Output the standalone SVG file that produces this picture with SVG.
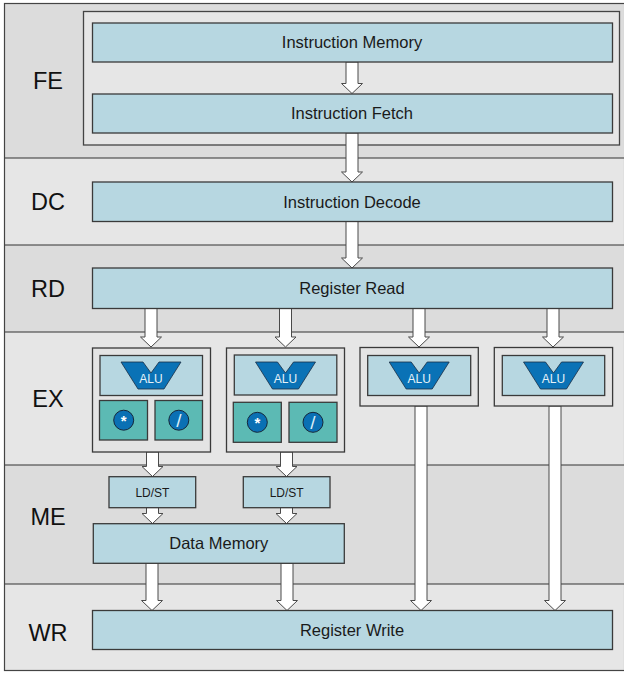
<svg xmlns="http://www.w3.org/2000/svg" width="624" height="673" viewBox="0 0 624 673">
<style>
.bd{fill:#dcdcdc}
.bl{fill:#e6e6e6}
.sep{stroke:#333;stroke-width:1.2}
.lbl{font-family:"Liberation Sans",Arial,sans-serif;font-size:23.5px;fill:#111;text-anchor:middle}
.box{fill:#b7d7e1;stroke:#3a3a3a;stroke-width:1.3}
.grp{fill:#e4e4e4;stroke:#3a3a3a;stroke-width:1.3}
.fu{fill:#5cbab4;stroke:#3a3a3a;stroke-width:1.3}
.t{font-family:"Liberation Sans",Arial,sans-serif;font-size:16.5px;fill:#1a1a1a;text-anchor:middle}
.ts{font-family:"Liberation Sans",Arial,sans-serif;font-size:12px;fill:#1a1a1a;text-anchor:middle}
.alu{fill:#0a72b6;stroke:#1b2f45;stroke-width:0.8}
.at{font-family:"Liberation Sans",Arial,sans-serif;font-size:12px;fill:#e6f2f8;text-anchor:middle}
.c{fill:#0a70b4;stroke:#15263a;stroke-width:1}
.ct{font-family:"Liberation Sans",Arial,sans-serif;font-weight:bold;font-size:15px;fill:#fff;text-anchor:middle}
.cd{font-family:"Liberation Sans",Arial,sans-serif;font-weight:normal;font-size:19px;fill:#dceef8;text-anchor:middle}
.ar{fill:#fff;stroke:#4a4a4a;stroke-width:1}
</style>
<g id="bands">
<rect class="bd" x="4.5" y="3.5" width="619" height="154.5"/>
<rect class="bl" x="4.5" y="158" width="619" height="87"/>
<rect class="bd" x="4.5" y="245" width="619" height="87"/>
<rect class="bl" x="4.5" y="332" width="619" height="133"/>
<rect class="bd" x="4.5" y="465" width="619" height="119"/>
<rect class="bl" x="4.5" y="584" width="619" height="86.5"/>
<line class="sep" x1="4.5" y1="158" x2="624" y2="158"/>
<line class="sep" x1="4.5" y1="245" x2="624" y2="245"/>
<line class="sep" x1="4.5" y1="332" x2="624" y2="332"/>
<line class="sep" x1="4.5" y1="465" x2="624" y2="465"/>
<line class="sep" x1="4.5" y1="584" x2="624" y2="584"/>
<rect x="4.5" y="3.5" width="620" height="667" fill="none" stroke="#444" stroke-width="1.2"/>
<text class="lbl" x="48" y="88.5">FE</text>
<text class="lbl" x="48" y="210">DC</text>
<text class="lbl" x="48" y="296.5">RD</text>
<text class="lbl" x="48" y="407">EX</text>
<text class="lbl" x="48" y="524.5">ME</text>
<text class="lbl" x="48" y="640.5">WR</text>
</g>
<g id="fe-frame"><rect x="83.5" y="11.5" width="536" height="133.5" fill="#e6e6e6" stroke="#444" stroke-width="1.3"/></g>
<g id="connectors">
<polygon class="ar" points="346,62 358,62 358,83.5 362.5,83.5 352,93.5 341.5,83.5 346,83.5"/>
<polygon class="ar" points="346,133 358,133 358,172 362.5,172 352,182 341.5,172 346,172"/>
<polygon class="ar" points="346,221 358,221 358,258 362.5,258 352,268 341.5,258 346,258"/>
<polygon class="ar" points="145,308 157,308 157,337 161.5,337 151,347 140.5,337 145,337"/>
<polygon class="ar" points="279.5,308 291.5,308 291.5,337 296,337 285.5,347 275,337 279.5,337"/>
<polygon class="ar" points="413,308 425,308 425,337 429.5,337 419,347 408.5,337 413,337"/>
<polygon class="ar" points="547,308 559,308 559,337 563.5,337 553,347 542.5,337 547,337"/>
<polygon class="ar" points="146.5,452 158.5,452 158.5,466.5 163,466.5 152.5,476.5 142,466.5 146.5,466.5"/>
<polygon class="ar" points="280.5,452 292.5,452 292.5,466.5 297,466.5 286.5,476.5 276,466.5 280.5,466.5"/>
<polygon class="ar" points="146.5,507.5 158.5,507.5 158.5,513.5 163,513.5 152.5,523.5 142,513.5 146.5,513.5"/>
<polygon class="ar" points="280.5,507.5 292.5,507.5 292.5,513.5 297,513.5 286.5,523.5 276,513.5 280.5,513.5"/>
<polygon class="ar" points="146,563 158,563 158,600.5 162.5,600.5 152,610.5 141.5,600.5 146,600.5"/>
<polygon class="ar" points="281,563 293,563 293,600.5 297.5,600.5 287,610.5 276.5,600.5 281,600.5"/>
<polygon class="ar" points="415,406 427,406 427,600.5 431.5,600.5 421,610.5 410.5,600.5 415,600.5"/>
<polygon class="ar" points="549,406 561,406 561,600.5 565.5,600.5 555,610.5 544.5,600.5 549,600.5"/>
</g>
<g id="instruction-memory"><rect class="box" x="92.5" y="23" width="520" height="39"/><text class="t" x="352" y="48.3">Instruction Memory</text></g>
<g id="instruction-fetch"><rect class="box" x="92.5" y="94" width="520" height="39"/><text class="t" x="352" y="119.4">Instruction Fetch</text></g>
<g id="instruction-decode"><rect class="box" x="92.5" y="182" width="520" height="39.5"/><text class="t" x="352" y="207.6">Instruction Decode</text></g>
<g id="register-read"><rect class="box" x="92.5" y="268" width="520" height="40.5"/><text class="t" x="352" y="294.2">Register Read</text></g>
<g id="ex-unit-1">
<rect class="grp" x="92.5" y="348" width="118" height="104"/>
<rect class="box" x="100" y="355.5" width="102.5" height="40"/>
<polygon class="alu" points="121,362 143,362 151,373 159,362 181,362 164,389 138,389"/>
<text class="at" x="151" y="383.3">ALU</text>
<rect class="fu" x="99.5" y="400.5" width="48" height="39.5"/>
<circle class="c" cx="123.7" cy="420.2" r="10"/><text class="ct" x="123.7" y="426">*</text>
<rect class="fu" x="155" y="400.5" width="47.5" height="39.5"/>
<circle class="c" cx="178.8" cy="420.2" r="10"/><text class="cd" x="178.8" y="427">/</text>
</g>
<g id="ex-unit-2">
<rect class="grp" x="226.5" y="348" width="118" height="104"/>
<rect class="box" x="234.3" y="355" width="102.5" height="40"/>
<polygon class="alu" points="255.5,362 277.5,362 285.5,373 293.5,362 315.5,362 298.5,389 272.5,389"/>
<text class="at" x="285.5" y="383.3">ALU</text>
<rect class="fu" x="233.3" y="402.3" width="48" height="40"/>
<circle class="c" cx="257.3" cy="422.3" r="10"/><text class="ct" x="257.3" y="428">*</text>
<rect class="fu" x="289" y="402.3" width="48" height="40"/>
<circle class="c" cx="313" cy="422.3" r="10"/><text class="cd" x="313" y="429">/</text>
</g>
<g id="ex-unit-3">
<rect class="grp" x="360" y="347.5" width="118.3" height="58.5"/>
<rect class="box" x="367.7" y="355.5" width="103" height="40"/>
<polygon class="alu" points="389.2,362 411.2,362 419.2,373 427.2,362 449.2,362 432.2,389 406.2,389"/>
<text class="at" x="419.2" y="383.3">ALU</text>
</g>
<g id="ex-unit-4">
<rect class="grp" x="494.3" y="347.5" width="118.3" height="58.5"/>
<rect class="box" x="502.3" y="355.5" width="102.4" height="40"/>
<polygon class="alu" points="523.5,362 545.5,362 553.5,373 561.5,362 583.5,362 566.5,389 540.5,389"/>
<text class="at" x="553.5" y="383.3">ALU</text>
</g>
<g id="ldst-1"><rect class="box" x="109" y="476.7" width="86.7" height="31"/><text class="ts" x="152.4" y="496.5">LD/ST</text></g>
<g id="ldst-2"><rect class="box" x="243.3" y="476.7" width="86.7" height="31"/><text class="ts" x="286.7" y="496.5">LD/ST</text></g>
<g id="data-memory"><rect class="box" x="93.3" y="523.7" width="251" height="39.6"/><text class="t" x="218.8" y="549.4">Data Memory</text></g>
<g id="register-write"><rect class="box" x="92.5" y="610.5" width="520" height="39"/><text class="t" x="352" y="635.8">Register Write</text></g>
</svg>
